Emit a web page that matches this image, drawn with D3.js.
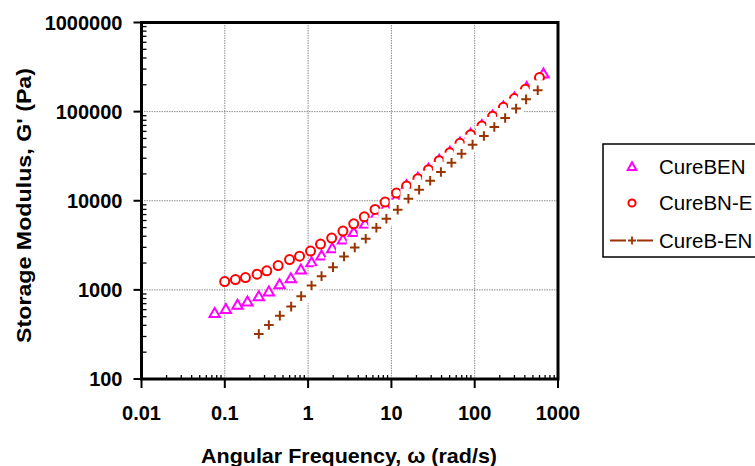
<!DOCTYPE html>
<html>
<head>
<meta charset="utf-8">
<script src="https://cdn.jsdelivr.net/npm/d3@7"></script>
<style>
  body { margin: 0; background: #fff; }
</style>
</head>
<body>
<div id="my_dataviz"></div>
<script>
// series data (omega in rad/s, G' in Pa)
const benOmega = [0.0756, 0.103, 0.142, 0.187, 0.256, 0.338, 0.454, 0.621, 0.819, 1.10, 1.45, 1.95, 2.62, 3.53, 4.83, 6.49, 8.56, 11.3, 15.2, 20.8, 27.9, 37.5, 50.4, 66.5, 89.3, 122, 164, 221, 300, 421, 669]
const benG = [551, 612, 679, 739, 849, 957, 1159, 1354, 1690, 2047, 2427, 2940, 3673, 4446, 5515, 6962, 8562, 10530, 14900, 18100, 22900, 28900, 35500, 45100, 56600, 71000, 90700, 114500, 143800, 189000, 267000]

const bneOmega = [0.0997, 0.134, 0.177, 0.244, 0.319, 0.437, 0.599, 0.790, 1.07, 1.41, 1.92, 2.62, 3.53, 4.73, 6.37, 8.40, 11.5, 15.2, 20.8, 27.9, 37.5, 50.4, 66.5, 89.3, 122, 164, 221, 300, 406, 599]
const bneG = [1240, 1305, 1374, 1501, 1635, 1876, 2190, 2391, 2722, 3262, 3811, 4567, 5515, 6607, 7980, 9670, 12210, 14630, 17660, 22300, 28140, 34620, 44040, 55150, 69050, 88500, 111700, 140000, 178100, 241000]

const benOmega2 = [0.256, 0.338, 0.458, 0.626, 0.826, 1.10, 1.45, 1.99, 2.70, 3.63, 4.92, 6.60, 8.71, 11.9, 16.0, 21.5, 29.2, 39.3, 52.7, 69.6, 94.3, 129, 172, 232, 314, 414, 571]
const benG2 = [320, 404, 514, 649, 850, 1118, 1426, 1799, 2366, 2988, 3741, 4974, 6280, 7925, 10530, 13290, 16770, 21010, 26730, 33730, 42580, 53330, 67330, 84950, 108100, 137400, 173500]

const seriesNames = ["CureBEN", "CureBN-E", "CureB-EN"]
const xTicks = [0.01, 0.1, 1, 10, 100, 1000]
const yTicks = [100, 1000, 10000, 100000, 1000000]

const colors = ["#FF00FF", "#FF0000", "#993300"]

// plot box
const margin = {top: 22.5, right: 197, bottom: 87, left: 141.5},
    width = 755 - margin.left - margin.right,
    height = 466 - margin.top - margin.bottom;

const svg = d3.select("#my_dataviz")
  .append("svg")
    .attr("width", 755)
    .attr("height", 466)
    .style("font-family", "'Liberation Sans', Arial, sans-serif")

const g = svg.append("g")
  .attr("transform", `translate(${margin.left}, ${margin.top})`)

//////////
// SCALES //
//////////
const x = d3.scaleLog()
  .domain([0.01, 1000])
  .range([0, width])

const y = d3.scaleLog()
  .domain([100, 1000000])
  .range([height, 0])

// minor tick values (2..9 in each decade)
const minorX = []
for (let p = -2; p < 3; p++) for (let m = 2; m < 10; m++) minorX.push(m * Math.pow(10, p))
const minorY = []
for (let p = 2; p < 6; p++) for (let m = 2; m < 10; m++) minorY.push(m * Math.pow(10, p))

//////////
// GRID //
//////////
g.append("g")
  .selectAll("line")
  .data(xTicks.slice(1, -1))
  .join("line")
    .attr("x1", d => x(d)).attr("x2", d => x(d))
    .attr("y1", 0).attr("y2", height)
    .attr("stroke", "#8c8c8c")
    .attr("stroke-width", 1)
    .attr("stroke-dasharray", "1.5,1")

g.append("g")
  .selectAll("line")
  .data(yTicks.slice(1, -1))
  .join("line")
    .attr("y1", d => y(d)).attr("y2", d => y(d))
    .attr("x1", 0).attr("x2", width)
    .attr("stroke", "#8c8c8c")
    .attr("stroke-width", 1)
    .attr("stroke-dasharray", "1.5,1")

//////////
// MARKERS //
//////////
const tri = "M0,-5L5.2,4L-5.2,4Z"

// CureBEN triangles
g.append("g")
  .selectAll("path")
  .data(benOmega.map((w, i) => [w, benG[i]]))
  .join("path")
    .attr("transform", d => `translate(${x(d[0])}, ${y(d[1])})`)
    .attr("d", tri)
    .attr("fill", "#fff")
    .attr("stroke", colors[0])
    .attr("stroke-width", 2)

// CureBN-E circles
g.append("g")
  .selectAll("circle")
  .data(bneOmega.map((w, i) => [w, bneG[i]]))
  .join("circle")
    .attr("cx", d => x(d[0]))
    .attr("cy", d => y(d[1]))
    .attr("r", 4.5)
    .attr("fill", "#fff")
    .attr("stroke", colors[1])
    .attr("stroke-width", 2)

// CureB-EN pluses, each with a white patch behind
const plusG = g.append("g")
  .selectAll("g")
  .data(benOmega2.map((w, i) => [w, benG2[i]]))
  .join("g")
    .attr("transform", d => `translate(${x(d[0])}, ${y(d[1])})`)

plusG.append("rect")
  .attr("x", -8).attr("y", -10)
  .attr("width", 16).attr("height", 17)
  .attr("fill", "#fff")

plusG.append("path")
  .attr("d", "M-4.8,0H4.8M0,-4.8V4.8")
  .attr("stroke", colors[2])
  .attr("stroke-width", 2)

//////////
// AXIS //
//////////
const axisG = g.append("g").attr("stroke", "#000")

// major ticks crossing the axes
axisG.selectAll(".xmaj")
  .data(xTicks)
  .join("line")
    .attr("x1", d => x(d)).attr("x2", d => x(d))
    .attr("y1", height - 1).attr("y2", height + 9)
    .attr("stroke-width", 2)

axisG.selectAll(".ymaj")
  .data(yTicks)
  .join("line")
    .attr("y1", d => y(d)).attr("y2", d => y(d))
    .attr("x1", -8).attr("x2", 1)
    .attr("stroke-width", 2)

// minor ticks inside
axisG.selectAll(".xmin")
  .data(minorX)
  .join("line")
    .attr("x1", d => x(d)).attr("x2", d => x(d))
    .attr("y1", height).attr("y2", height - 4)
    .attr("stroke-width", 1.3)

axisG.selectAll(".ymin")
  .data(minorY)
  .join("line")
    .attr("y1", d => y(d)).attr("y2", d => y(d))
    .attr("x1", 0).attr("x2", 5)
    .attr("stroke-width", 1.3)

// frame
g.append("rect")
  .attr("width", width)
  .attr("height", height)
  .attr("fill", "none")
  .attr("stroke", "#000")
  .attr("stroke-width", 3)

// tick labels
g.append("g")
  .selectAll("text")
  .data(yTicks)
  .join("text")
    .attr("x", -19)
    .attr("y", d => y(d))
    .attr("dy", "0.36em")
    .attr("text-anchor", "end")
    .style("font-size", "20px")
    .style("font-weight", "bold")
    .text(d => d)

g.append("g")
  .selectAll("text")
  .data(xTicks)
  .join("text")
    .attr("x", d => x(d))
    .attr("y", height + 41)
    .attr("text-anchor", "middle")
    .style("font-size", "20px")
    .style("font-weight", "bold")
    .text(d => d)

// axis titles
svg.append("text")
  .attr("x", 201)
  .attr("y", 463)
  .attr("textLength", 296)
  .attr("lengthAdjust", "spacingAndGlyphs")
  .style("font-size", "21px")
  .style("font-weight", "bold")
  .text("Angular Frequency, ω (rad/s)")

svg.append("text")
  .attr("transform", "translate(31, 343) rotate(-90)")
  .attr("textLength", 275)
  .attr("lengthAdjust", "spacingAndGlyphs")
  .style("font-size", "21px")
  .style("font-weight", "bold")
  .text("Storage Modulus, G' (Pa)")

//////////
// LEGEND //
//////////
const legend = svg.append("g")

legend.append("rect")
  .attr("x", 603).attr("y", 144)
  .attr("width", 160).attr("height", 113)
  .attr("fill", "#fff")
  .attr("stroke", "#000")
  .attr("stroke-width", 1.5)

const rowY = [166.5, 203, 240.5]

legend.append("path")
  .attr("transform", `translate(632, ${rowY[0]})`)
  .attr("d", "M0,-4.3L4.3,3.5L-4.3,3.5Z")
  .attr("fill", "#fff")
  .attr("stroke", colors[0])
  .attr("stroke-width", 2)

legend.append("circle")
  .attr("cx", 632).attr("cy", rowY[1])
  .attr("r", 3.6)
  .attr("fill", "#fff")
  .attr("stroke", colors[1])
  .attr("stroke-width", 2)

legend.append("path")
  .attr("d", `M610,${rowY[2]}H626M637,${rowY[2]}H653M628,${rowY[2]}H636M632,${rowY[2] - 4}V${rowY[2] + 4}`)
  .attr("stroke", colors[2])
  .attr("stroke-width", 1.8)

legend.selectAll(".lbl")
  .data(seriesNames)
  .join("text")
    .attr("x", 659)
    .attr("y", (d, i) => rowY[i])
    .attr("dy", "0.36em")
    .style("font-size", "20.5px")
    .text(d => d)
</script>
</body>
</html>
